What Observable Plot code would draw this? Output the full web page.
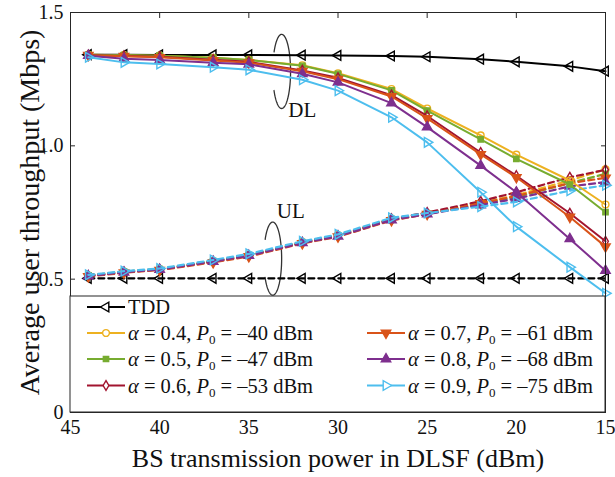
<!DOCTYPE html>
<html>
<head>
<meta charset="utf-8">
<script src="https://cdn.jsdelivr.net/npm/d3@7"></script>
<script src="https://cdn.jsdelivr.net/npm/@observablehq/plot@0.6"></script>
<style>
  html, body { margin: 0; padding: 0; background: white; }
  #chart { width: 615px; height: 477px; }
</style>
</head>
<body>
<div id="chart"></div>
<script>
// ---------- data ----------
const xPower = [44, 42, 40, 37, 35, 32, 30, 27, 25, 22, 20, 17, 15];
const xTicks = [45, 40, 35, 30, 25, 20, 15];
const yTicks = [0, 0.5, 1.0, 1.5];

const tddDL = [1.342, 1.342, 1.341, 1.341, 1.341, 1.340, 1.339, 1.337, 1.334, 1.325, 1.315, 1.298, 1.280];
const tddUL = [0.503, 0.503, 0.503, 0.503, 0.503, 0.503, 0.503, 0.503, 0.503, 0.503, 0.503, 0.503, 0.503];

const dl04 = [1.342, 1.340, 1.338, 1.330, 1.322, 1.302, 1.272, 1.213, 1.140, 1.039, 0.967, 0.870, 0.780];
const dl05 = [1.342, 1.340, 1.338, 1.330, 1.322, 1.300, 1.270, 1.208, 1.132, 1.024, 0.951, 0.855, 0.751];
const dl06 = [1.340, 1.337, 1.334, 1.323, 1.315, 1.283, 1.255, 1.190, 1.112, 0.975, 0.888, 0.747, 0.642];
const dl07 = [1.340, 1.336, 1.332, 1.320, 1.312, 1.280, 1.250, 1.185, 1.103, 0.968, 0.882, 0.733, 0.622];
const dl08 = [1.338, 1.327, 1.322, 1.312, 1.306, 1.270, 1.238, 1.160, 1.070, 0.926, 0.826, 0.651, 0.532];
const dl09 = [1.332, 1.313, 1.307, 1.295, 1.285, 1.248, 1.207, 1.107, 1.013, 0.826, 0.697, 0.545, 0.447];

const ul04 = [0.514, 0.528, 0.538, 0.568, 0.590, 0.640, 0.665, 0.727, 0.748, 0.786, 0.815, 0.870, 0.912];
const ul05 = [0.514, 0.528, 0.538, 0.568, 0.590, 0.638, 0.663, 0.724, 0.745, 0.782, 0.808, 0.860, 0.895];
const ul06 = [0.512, 0.526, 0.536, 0.566, 0.588, 0.637, 0.662, 0.726, 0.750, 0.792, 0.826, 0.882, 0.910];
const ul07 = [0.510, 0.524, 0.534, 0.563, 0.585, 0.634, 0.659, 0.720, 0.744, 0.784, 0.812, 0.860, 0.880];
const ul08 = [0.512, 0.526, 0.536, 0.566, 0.588, 0.636, 0.661, 0.722, 0.744, 0.778, 0.802, 0.848, 0.864];
const ul09 = [0.516, 0.530, 0.540, 0.572, 0.595, 0.642, 0.668, 0.730, 0.748, 0.772, 0.790, 0.832, 0.852];

const alphas = ["0.4", "0.5", "0.6", "0.7", "0.8", "0.9"];
const p0s = ["40", "47", "53", "61", "68", "75"];

// annotations (data units)
const annoText = [
  {label: "DL", x: 32.0, y: 1.132},
  {label: "UL", x: 32.65, y: 0.754}
];
const annoEllipse = [
  {cx: 33.16, cy: 1.279, rx: 0.5, ry: 0.139},
  {cx: 33.66, cy: 0.577, rx: 0.5, ry: 0.137}
];

// ---------- styles ----------
const seriesStyle = [
  {color: "#000000", symbol: d3.symbolTriangle, rotate: -90, filled: false, r: 3.6},
  {color: "#EDB120", symbol: d3.symbolCircle, rotate: 0, filled: false, r: 3.4},
  {color: "#77AC30", symbol: d3.symbolSquare, rotate: 0, filled: true, r: 3.0},
  {color: "#A2142F", symbol: d3.symbolDiamond, rotate: 0, filled: false, r: 3.0},
  {color: "#D95319", symbol: d3.symbolTriangle, rotate: 180, filled: true, r: 3.5},
  {color: "#7E2F8E", symbol: d3.symbolTriangle, rotate: 0, filled: true, r: 3.5},
  {color: "#4DBEEE", symbol: d3.symbolTriangle, rotate: 90, filled: false, r: 3.6}
];
const dlSets = [tddDL, dl04, dl05, dl06, dl07, dl08, dl09];
const ulSets = [tddUL, ul04, ul05, ul06, ul07, ul08, ul09];

const rows = arr => xPower.map((x, i) => ({x, y: arr[i]}));

function seriesMarks(arr, st, dashed) {
  const data = rows(arr);
  return [
    Plot.line(data, {x: "x", y: "y", stroke: st.color, strokeWidth: dashed ? 2.2 : 2,
      strokeDasharray: dashed ? "6,4" : null}),
    Plot.dot(data, {x: "x", y: "y", symbol: st.symbol, rotate: st.rotate, r: st.r,
      stroke: st.color, strokeWidth: 1.4, fill: st.filled ? st.color : "none"})
  ];
}

// ellipse outline with an opening on its left side (x axis is reversed)
function ellipsePoints(e) {
  return d3.range(-149, 151, 3).map(deg => {
    const t = deg * Math.PI / 180;
    return {x: e.cx - e.rx * Math.cos(t), y: e.cy + e.ry * Math.sin(t)};
  });
}

const FONT = "'Liberation Serif', 'Times New Roman', Times, serif";
const AX = "#262626";

const marks = [];
for (let i = 0; i < 7; i++) marks.push(...seriesMarks(ulSets[i], seriesStyle[i], true));
for (let i = 0; i < 7; i++) marks.push(...seriesMarks(dlSets[i], seriesStyle[i], false));

const chart = Plot.plot({
  width: 615,
  height: 477,
  marginLeft: 70,
  marginRight: 10,
  marginTop: 12,
  marginBottom: 65,
  style: {fontFamily: FONT, background: "white", color: AX},
  x: {domain: [15, 45], reverse: true},
  y: {domain: [0, 1.5]},
  marks: [
    ...annoEllipse.map(e => Plot.line(ellipsePoints(e), {x: "x", y: "y", stroke: "#333", strokeWidth: 1.3})),
    Plot.text(annoText, {x: "x", y: "y", text: "label", fontSize: 21, fill: "#111"}),
    ...marks,
    Plot.frame({stroke: AX, strokeWidth: 1}),
    Plot.axisX({ticks: xTicks, tickSize: -5, tickPadding: 12, fontSize: 20, label: null, stroke: AX, fill: "#111"}),
    Plot.axisX({ticks: xTicks, anchor: "top", tickSize: -5, tickFormat: () => "", label: null, stroke: AX}),
    Plot.axisY({ticks: yTicks, tickSize: -5, tickPadding: 12, fontSize: 20, label: null, stroke: AX, fill: "#111",
      tickFormat: d => d === 0 ? "0" : d.toFixed(1)}),
    Plot.axisY({ticks: yTicks, anchor: "right", tickSize: -5, tickFormat: () => "", label: null, stroke: AX}),
    Plot.text(["BS transmission power in DLSF (dBm)"], {frameAnchor: "bottom", dy: 46, lineAnchor: "middle",
      textAnchor: "middle", fontSize: 26, fill: "#111"}),
    Plot.text(["Average user throughput (Mbps)"], {frameAnchor: "left", dx: -40, rotate: -90,
      textAnchor: "middle", lineAnchor: "middle", fontSize: 28, fill: "#111"})
  ]
});
document.getElementById("chart").appendChild(chart);

// ---------- legend (inside the axes, bottom) ----------
const svg = d3.select(chart);
const lg = svg.append("g").attr("font-family", FONT).attr("font-size", 20.5).attr("fill", "#111")
  .attr("text-anchor", "start");
lg.append("rect").attr("x", 70).attr("y", 296).attr("width", 535).attr("height", 116)
  .attr("fill", "white").attr("stroke", AX).attr("stroke-width", 1);

const legendItems = [
  {i: 0, col: 0, row: 0},
  {i: 1, col: 0, row: 1}, {i: 2, col: 0, row: 2}, {i: 3, col: 0, row: 3},
  {i: 4, col: 1, row: 1}, {i: 5, col: 1, row: 2}, {i: 6, col: 1, row: 3}
];
const colX = [87, 367];
const rowY = [307, 333, 359, 385.5];
legendItems.forEach(it => {
  const st = seriesStyle[it.i];
  const x0 = colX[it.col], y0 = rowY[it.row];
  lg.append("line").attr("x1", x0).attr("x2", x0 + 38).attr("y1", y0).attr("y2", y0)
    .attr("stroke", st.color).attr("stroke-width", 2);
  lg.append("path")
    .attr("d", d3.symbol().type(st.symbol).size(Math.PI * st.r * st.r)())
    .attr("transform", `translate(${x0 + 19},${y0}) rotate(${st.rotate})`)
    .attr("fill", st.filled ? st.color : "white").attr("stroke", st.color).attr("stroke-width", 1.4);
  const t = lg.append("text").attr("x", x0 + 41).attr("y", y0).attr("dy", "0.35em");
  if (it.i === 0) {
    t.text("TDD");
  } else {
    t.append("tspan").attr("font-style", "italic").text("α");
    t.append("tspan").text(` = ${alphas[it.i - 1]}, `);
    t.append("tspan").attr("font-style", "italic").text("P");
    t.append("tspan").attr("font-size", 13).attr("dy", 4).text("0");
    t.append("tspan").attr("dy", -4).text(` = –${p0s[it.i - 1]} dBm`);
  }
});
</script>
</body>
</html>
